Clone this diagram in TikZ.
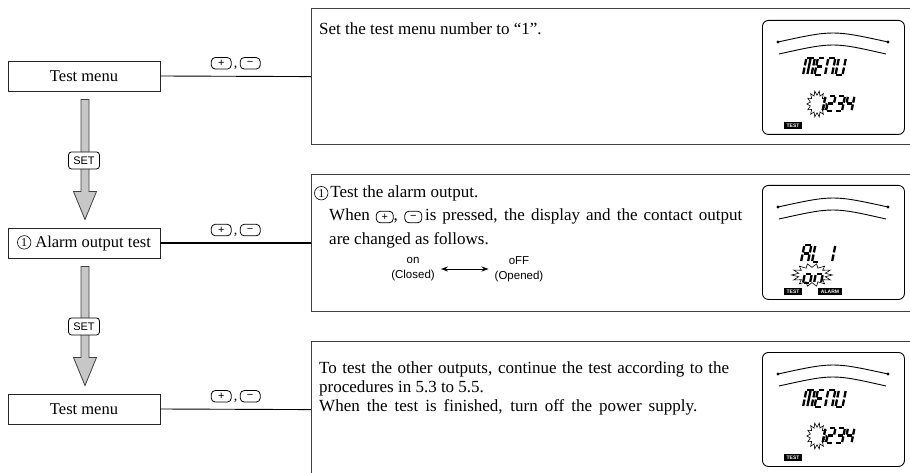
\documentclass[tikz,border=0pt]{standalone}
\usepackage{fontspec}
\setmainfont{Liberation Serif}
\newfontfamily\sansfont{Liberation Sans}
\usetikzlibrary{calc,arrows.meta}

% circled numeral, drawn inline
\newcommand\circone{\tikz[baseline={([yshift=-4.8pt]c1.center)}]\node[circnum](c1){1};}
% small push-button drawn inline
\newcommand\keycap[2][20pt]{\tikz[baseline={([yshift=-4pt]kc.center)}]\node[keycapbox,minimum width=#1](kc){#2};}

% seven-segment pieces (cell 1 wide, 2 high)
\def\lcdsegA{0.12/2/0.88/2}
\def\lcdsegB{1/1.88/1/1.12}
\def\lcdsegC{1/0.88/1/0.12}
\def\lcdsegD{0.12/0/0.88/0}
\def\lcdsegE{0/0.12/0/0.88}
\def\lcdsegF{0/1.12/0/1.88}
\def\lcdsegG{0.12/1/0.88/1}
\def\lcdsegM{0.5/1.88/0.5/0.12}
\edef\lcdgM{\lcdsegA,\lcdsegB,\lcdsegC,\lcdsegE,\lcdsegF,\lcdsegM}
\edef\lcdgE{\lcdsegA,\lcdsegD,\lcdsegE,\lcdsegF,\lcdsegG}
\edef\lcdgN{\lcdsegA,\lcdsegB,\lcdsegC,\lcdsegE,\lcdsegF}
\edef\lcdgU{\lcdsegB,\lcdsegC,\lcdsegD,\lcdsegE,\lcdsegF}
\edef\lcdgOne{\lcdsegB,\lcdsegC}
\edef\lcdgTwo{\lcdsegA,\lcdsegB,\lcdsegG,\lcdsegE,\lcdsegD}
\edef\lcdgThree{\lcdsegA,\lcdsegB,\lcdsegG,\lcdsegC,\lcdsegD}
\edef\lcdgFour{\lcdsegF,\lcdsegG,\lcdsegB,\lcdsegC}
\edef\lcdgA{\lcdsegA,\lcdsegB,\lcdsegC,\lcdsegE,\lcdsegF,\lcdsegG}
\edef\lcdgL{\lcdsegD,\lcdsegE,\lcdsegF}
\edef\lcdgo{\lcdsegC,\lcdsegD,\lcdsegE,\lcdsegG}
\edef\lcdgn{\lcdsegC,\lcdsegE,\lcdsegG}

\newcommand\lcdglyph[3][lcdcell]{%
  \begin{scope}[shift={#2},#1]
    \foreach \xa/\ya/\xb/\yb in #3 {\draw[lcdseg] (\xa,\ya) -- (\xb,\yb);}
  \end{scope}}

% blinking burst around a digit
\newcommand\lcdburst[4]{%
  \draw[burst] plot[domain=0:27,samples=28,variable=\k]
    ({#1+#3*(1+0.2*cos(180*\k))*cos(\k*360/28)},{#2+#4*(1+0.2*cos(180*\k))*sin(\k*360/28)}) -- cycle;}

% display frame with the two bar-graph arcs
\newcommand\lcdframe[1]{%
  \node[lcdbox,anchor=north west] (#1) at (0,0) {};
  \draw[lcdarc] (16,22) .. controls (71,10) .. (126,22);
  \draw[lcdarc] (17,34) .. controls (71,22) .. (124,34);
  \fill (16,22) circle (1.6);
  \fill (126,22) circle (1.6);}

\newcommand\menudisplay[1]{%
  \lcdframe{#1}
  \lcdglyph[lcdwide]{(41,55)}{\lcdgM}
  \lcdglyph{(52.5,55)}{\lcdgE}
  \lcdglyph{(63,55)}{\lcdgN}
  \lcdglyph{(73.5,55)}{\lcdgU}
  \lcdburst{55}{84}{8.5}{11}
  \lcdglyph[lcdmid]{(54,91)}{\lcdgOne}
  \lcdglyph[lcdmid]{(64,91)}{\lcdgTwo}
  \lcdglyph[lcdmid]{(73.5,91)}{\lcdgThree}
  \lcdglyph[lcdmid]{(83,91)}{\lcdgFour}
  \node[lcdtag] (#1test) at (31,105.5) {TEST};}

\tikzset{
  leftbox/.style={draw=black!85,line width=0.9pt,minimum width=152pt,minimum height=30pt,
    inner sep=0pt,font=\fontsize{16.5}{19}\selectfont},
  stepframe/.style={draw=black!75,line width=1.2pt,anchor=north west,minimum width=620pt,inner sep=0pt},
  link/.style={line width=0.9pt},
  boldlink/.style={line width=1.8pt},
  flowarrow/.style={fill=black!22,draw=black!75,line width=0.8pt,line join=miter},
  setkey/.style={draw=black,fill=white,rounded corners=3pt,line width=0.8pt,
    font=\sansfont\fontsize{11}{11}\selectfont,minimum width=31pt,minimum height=17pt,inner sep=0pt},
  keycapbox/.style={draw=black,line width=0.8pt,rounded corners=4pt,minimum height=11.5pt,
    inner sep=0pt,anchor=center,font=\sansfont\fontsize{11}{11}\selectfont},
  circnum/.style={circle,draw=black,line width=0.6pt,minimum size=13.5pt,inner sep=0pt,
    anchor=center,font=\fontsize{12}{12}\selectfont},
  keylabel/.style={inner sep=0pt,font=\fontsize{14}{14}\selectfont},
  body/.style={anchor=base west,inner sep=0pt,font=\fontsize{17}{20}\selectfont},
  state/.style={align=center,inner sep=0pt,font=\sansfont\fontsize{11.5}{15}\selectfont},
  lcdbox/.style={draw=black,line width=0.9pt,rounded corners=6pt,minimum width=142pt,
    minimum height=114pt,inner sep=0pt},
  lcdarc/.style={line width=0.9pt},
  lcdcell/.style={x=7pt,y=8.5pt,xslant=0.2},
  lcdwide/.style={x=8.5pt,y=8.5pt,xslant=0.2},
  lcdmid/.style={x=6.5pt,y=7.5pt,xslant=0.2},
  lcdlow/.style={x=7pt,y=9pt,xslant=0.2},
  lcdseg/.style={line width=2.3pt,line cap=butt},
  burst/.style={draw=black,fill=white,line width=0.6pt},
  lcdtag/.style={fill=black,text=white,inner sep=0pt,minimum height=7pt,minimum width=18pt,
    font=\sansfont\bfseries\fontsize{5}{5}\selectfont}
}

\begin{document}
\begin{tikzpicture}[x=1pt,y=-1pt]
\clip (0,0) rectangle (910,473);

% left column of states
\node[leftbox] (menuA) at (84,76) {Test menu};
\node[leftbox] (alarm) at (84,243) {\circone\ Alarm output test};
\node[leftbox] (menuB) at (84,409) {Test menu};

% right column of step descriptions
\node[stepframe,minimum height=136pt] (stepA) at (311,8) {};
\node[stepframe,minimum height=137pt] (stepB) at (311,174) {};
\node[stepframe,minimum height=136pt] (stepC) at (311,341) {};

% connectors with key labels
\draw[link] (menuA.east) -- (stepA.west);
\draw[boldlink] (alarm.east) -- (stepB.west);
\draw[link] (menuB.east) -- (stepC.west);
\node[keylabel] (keysA) at ($(menuA.east)!0.5!(stepA.west)+(0,-13)$) {\keycap{+}\,,\,\keycap{−}};
\node[keylabel] (keysB) at ($(alarm.east)!0.5!(stepB.west)+(0,-13)$) {\keycap{+}\,,\,\keycap{−}};
\node[keylabel] (keysC) at ($(menuB.east)!0.5!(stepC.west)+(0,-13)$) {\keycap{+}\,,\,\keycap{−}};

% SET transitions
\coordinate (shaftA) at ($(menuA.south)+(1,8)$);
\coordinate (tipA) at ($(alarm.north)+(1,-8)$);
\filldraw[flowarrow] ($(shaftA)+(-4,0)$) -- ($(tipA)+(-4,-28)$) -- ($(tipA)+(-11.5,-28)$) -- (tipA)
  -- ($(tipA)+(11.5,-28)$) -- ($(tipA)+(4,-28)$) -- ($(shaftA)+(4,0)$) -- cycle;
\node[setkey] (setA) at ($(menuA.south)+(0,69)$) {SET};

\coordinate (shaftB) at ($(alarm.south)+(1,8)$);
\coordinate (tipB) at ($(menuB.north)+(1,-8)$);
\filldraw[flowarrow] ($(shaftB)+(-4,0)$) -- ($(tipB)+(-4,-28)$) -- ($(tipB)+(-11.5,-28)$) -- (tipB)
  -- ($(tipB)+(11.5,-28)$) -- ($(tipB)+(4,-28)$) -- ($(shaftB)+(4,0)$) -- cycle;
\node[setkey] (setB) at ($(alarm.south)+(0,68)$) {SET};

% step texts
\node[body] (txtA) at (319,35) {Set the test menu number to “1”.};

\node[body] (txtB1) at (314,198) {\circone\hspace{2pt}Test the alarm output.};
\node[body] (txtB2) at (329,221) {\makebox[413pt][s]{When \keycap[17pt]{+}, \keycap[17pt]{−}\,is pressed, the display and the contact output}};
\node[body] (txtB3) at (329,244) {are changed as follows.};
\node[state] (onstate) at (413,269) {on\\(Closed)};
\node[state] (offstate) at (519,269) {oFF\\(Opened)};
\draw[{Stealth[length=7pt,width=5pt]}-{Stealth[length=7pt,width=5pt]},line width=0.8pt,shorten <=6pt,shorten >=6pt]
  (onstate.east) -- (offstate.west);

\node[body] (txtC1) at (319,373) {\makebox[410pt][s]{To test the other outputs, continue the test according to the}};
\node[body] (txtC2) at (319,392) {procedures in 5.3 to 5.5.};
\node[body] (txtC3) at (319,411) {\makebox[378pt][s]{When the test is finished, turn off the power supply.}};

% displays
\begin{scope}[shift={(762,20)}]
  \menudisplay{lcdA}
\end{scope}

\begin{scope}[shift={(762,185)}]
  \lcdframe{lcdB}
  \lcdglyph{(39,77)}{\lcdgA}
  \lcdglyph{(50,77)}{\lcdgL}
  \lcdglyph{(63,77)}{\lcdgOne}
  \lcdburst{50}{90}{17}{9.5}
  \lcdglyph[lcdlow]{(41,98)}{\lcdgo}
  \lcdglyph[lcdlow]{(52,98)}{\lcdgn}
  \node[lcdtag] (lcdBtest) at (31,106.5) {TEST};
  \node[lcdtag,minimum width=24pt] (lcdBalarm) at (68,106.5) {ALARM};
\end{scope}

\begin{scope}[shift={(762,352)}]
  \menudisplay{lcdC}
\end{scope}
\end{tikzpicture}
\end{document}
